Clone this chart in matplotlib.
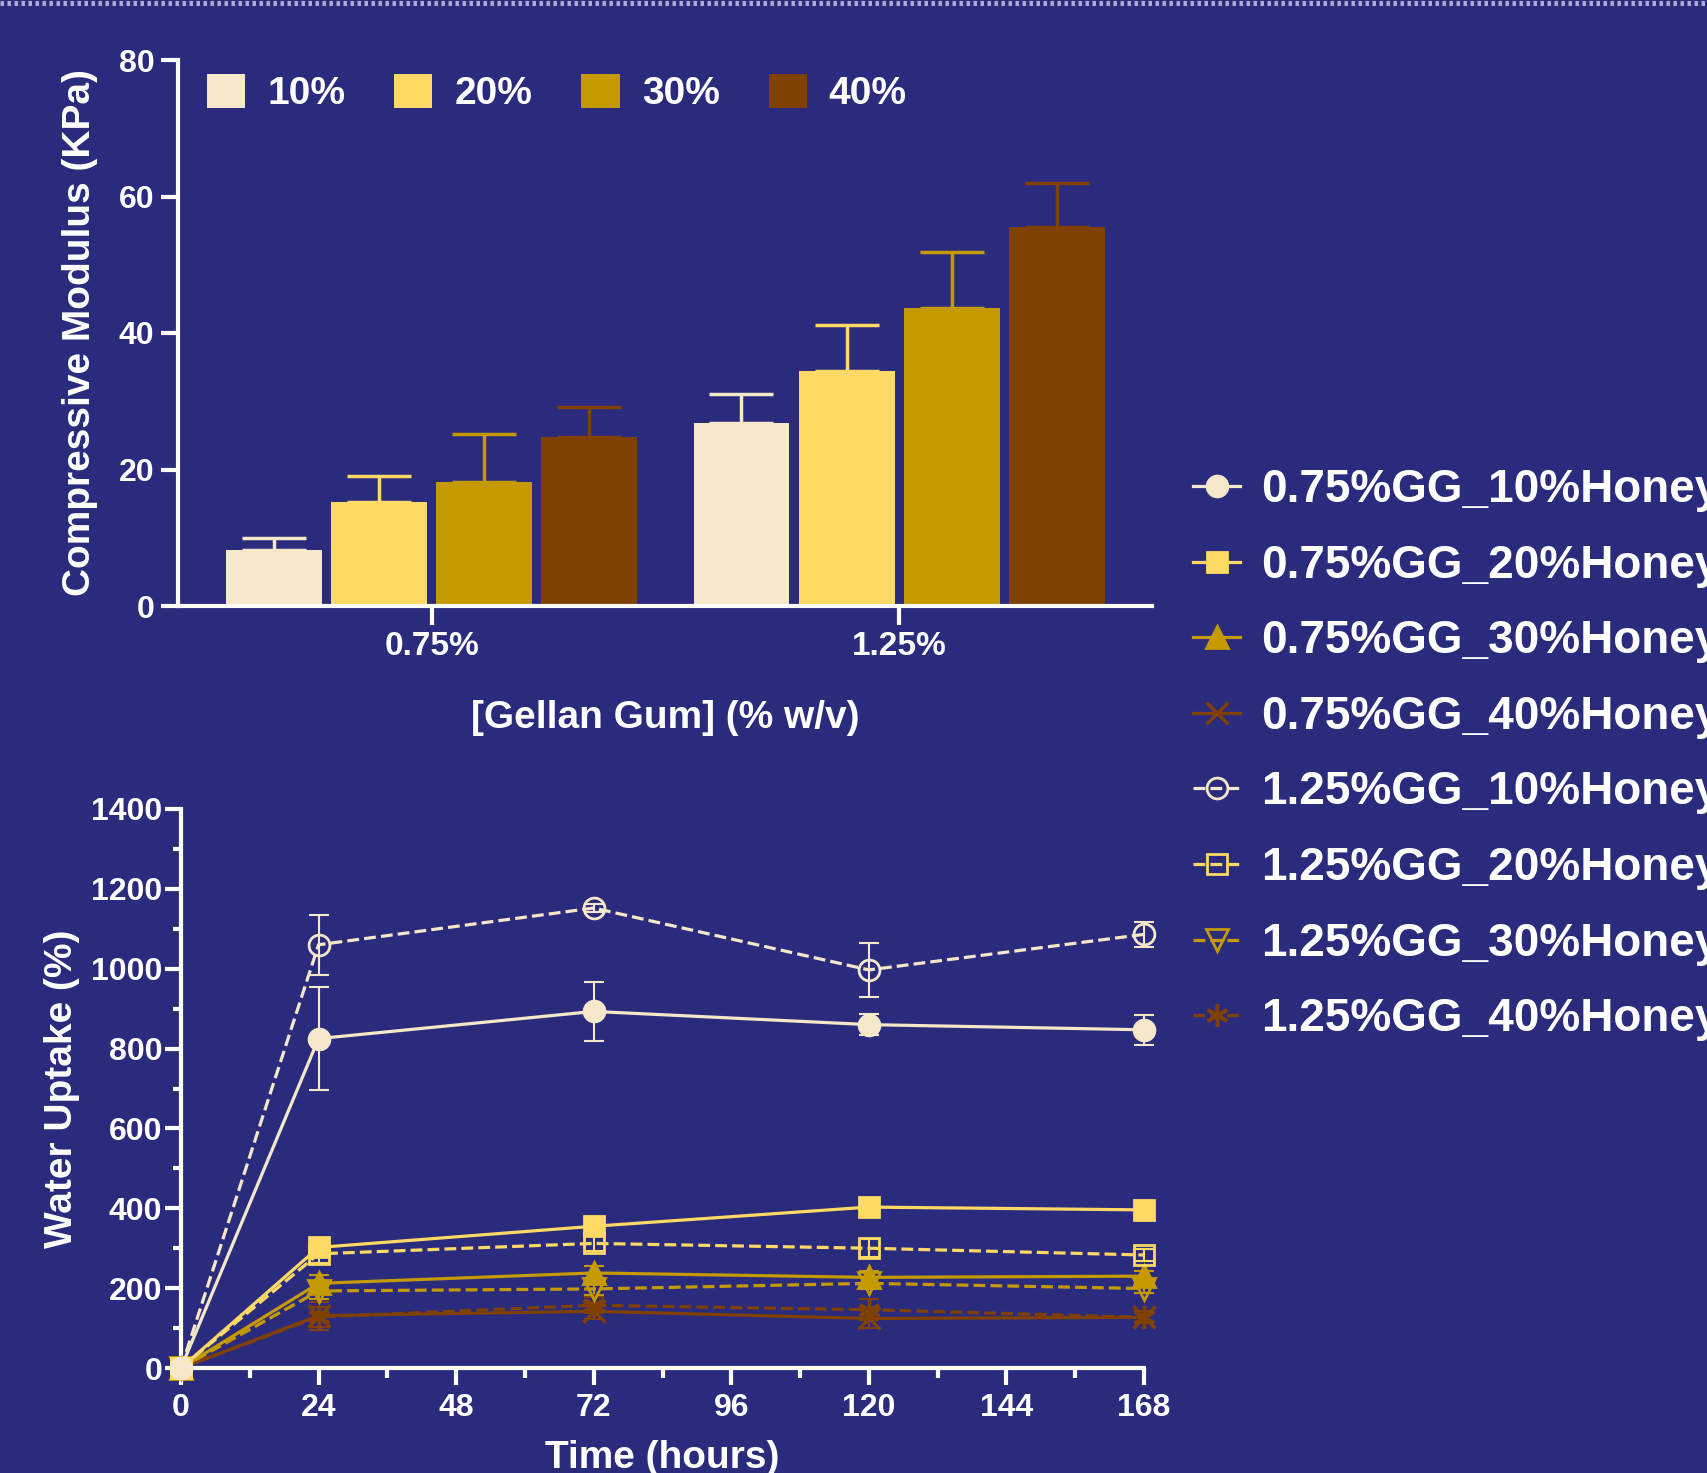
import numpy as np
import matplotlib
matplotlib.use("Agg")
import matplotlib.pyplot as plt
from matplotlib.lines import Line2D

plt.rcParams['font.family'] = ['Liberation Sans', 'DejaVu Sans']
plt.rcParams['font.weight'] = 'bold'
plt.rcParams['axes.labelweight'] = 'bold'

# 数据: 压缩模量 (柱状图)
gellan = ['0.75%', '1.25%']
honey = ['10%', '20%', '30%', '40%']
modulus_075 = [8.2, 15.3, 18.2, 24.7]
modulus_125 = [26.8, 34.5, 43.6, 55.6]
err_075 = [1.7, 3.7, 7.0, 4.5]
err_125 = [4.2, 6.7, 8.3, 6.4]

# 数据: 吸水率 (折线图)
hours = [0, 24, 72, 120, 168]
gg075_10 = [0, 825, 893, 860, 847]
gg075_20 = [0, 302, 355, 403, 396]
gg075_30 = [0, 212, 238, 227, 230]
gg075_40 = [0, 131, 142, 124, 127]
gg125_10 = [0, 1060, 1152, 997, 1086]
gg125_20 = [0, 286, 312, 300, 283]
gg125_30 = [0, 193, 198, 212, 199]
gg125_40 = [0, 128, 157, 146, 127]
sd075_10 = [0, 128, 73, 27, 37]
sd075_20 = [0, 18, 14, 12, 10]
sd075_30 = [0, 22, 18, 16, 14]
sd075_40 = [0, 35, 20, 24, 15]
sd125_10 = [0, 75, 10, 67, 32]
sd125_20 = [0, 22, 20, 22, 15]
sd125_30 = [0, 20, 15, 15, 12]
sd125_40 = [0, 25, 20, 27, 15]

bg = '#2B2B7E'
colors = ['#F5E7C9', '#FFD966', '#C49A00', '#7F4000']

W, H = 1708, 1473
fig = plt.figure(figsize=(W / 100, H / 100), dpi=100, facecolor=bg)

# 顶部虚线边框
fig.add_artist(Line2D([0, 1], [1 - 2.5 / H, 1 - 2.5 / H], transform=fig.transFigure,
                      color='#A9A9CF', lw=3.6, dashes=(0.7, 0.7)))


def style_axes(ax):
    ax.set_facecolor(bg)
    for s in ['top', 'right']:
        ax.spines[s].set_visible(False)
    for s in ['left', 'bottom']:
        ax.spines[s].set_color('white')
        ax.spines[s].set_linewidth(3)


# ---------- 柱状图 ----------
ax1 = fig.add_axes([178 / W, 1 - 606 / H, (1152 - 178) / W, (606 - 60) / H])
style_axes(ax1)
x = np.arange(len(gellan))
step = 0.225
width = 0.205
for i, lab in enumerate(honey):
    vals = [modulus_075[i], modulus_125[i]]
    errs = [err_075[i], err_125[i]]
    pos = x + (i - 1.5) * step
    ax1.bar(pos, vals, width, color=colors[i], label=lab, zorder=2)
    ax1.errorbar(pos, vals, yerr=[[0, 0], errs], fmt='none', ecolor=colors[i],
                 elinewidth=2.5, capsize=23, capthick=2.5, zorder=1)
ax1.set_xlim(-0.542, 1.54)
ax1.set_ylim(0, 80)
ax1.set_yticks([0, 20, 40, 60, 80])
ax1.set_xticks(x)
ax1.set_xticklabels(gellan)
ax1.tick_params(axis='both', colors='white', width=3, labelsize=23)
ax1.tick_params(axis='y', length=12, pad=5)
ax1.tick_params(axis='x', length=14, pad=4, labelsize=24)
ax1.set_ylabel('Compressive Modulus (KPa)', color='white', fontsize=28, labelpad=15)
ax1.set_xlabel('[Gellan Gum] (% w/v)', color='white', fontsize=28, labelpad=27)
ax1.legend(loc='upper left', bbox_to_anchor=(207 / W, 1 - 74 / H),
           bbox_transform=fig.transFigure, ncol=4, frameon=False,
           fontsize=28, labelcolor='white', handlelength=0.98, handleheight=0.98,
           handletextpad=0.57, columnspacing=1.26, borderpad=0, borderaxespad=0)

# ---------- 吸水率折线图 ----------
ax2 = fig.add_axes([181 / W, 1 - 1368 / H, (1144 - 181) / W, (1368 - 809) / H])
style_axes(ax2)

series = [
    ('0.75%GG_10%Honey', gg075_10, sd075_10, colors[0], 'o', '-', True),
    ('0.75%GG_20%Honey', gg075_20, sd075_20, colors[1], 's', '-', True),
    ('0.75%GG_30%Honey', gg075_30, sd075_30, colors[2], '^', '-', True),
    ('0.75%GG_40%Honey', gg075_40, sd075_40, colors[3], 'x', '-', True),
    ('1.25%GG_10%Honey', gg125_10, sd125_10, colors[0], 'o', '--', False),
    ('1.25%GG_20%Honey', gg125_20, sd125_20, colors[1], 's', '--', False),
    ('1.25%GG_30%Honey', gg125_30, sd125_30, colors[2], 'v', '--', False),
    ('1.25%GG_40%Honey', gg125_40, sd125_40, colors[3], (6, 2, 0), '--', False),
]
handles = []
for k, (lab, y, e, c, m, ls, filled) in enumerate(series):
    ax2.errorbar(hours, y, yerr=e, fmt='none', ecolor=c, elinewidth=1.5,
                 capsize=7, capthick=1.5, zorder=2, clip_on=False)
    ms = 15 if m in ('o', 's') else 16
    mew = 2.5 if m in ('x', (6, 2, 0)) else 2
    ln, = ax2.plot(hours, y, color=c, ls=ls, lw=2.3, marker=m, markersize=ms,
                   markerfacecolor=c if filled else 'none', markeredgecolor=c,
                   markeredgewidth=mew, label=lab, zorder=10 - k % 4, clip_on=False)
    handles.append(ln)

ax2.set_xlim(0, 168)
ax2.set_ylim(0, 1400)
ax2.set_xticks(range(0, 169, 24))
ax2.set_xticks(range(12, 169, 24), minor=True)
ax2.set_yticks(range(0, 1401, 200))
ax2.set_yticks(range(100, 1400, 200), minor=True)
ax2.tick_params(axis='both', which='both', colors='white', width=3, labelsize=23)
ax2.tick_params(axis='y', which='major', length=11.5, pad=2)
ax2.tick_params(axis='y', which='minor', length=6)
ax2.tick_params(axis='x', which='major', length=12, pad=6)
ax2.tick_params(axis='x', which='minor', length=7)
ax2.set_ylabel('Water Uptake (%)', color='white', fontsize=28, labelpad=8)
ax2.set_xlabel('Time (hours)', color='white', fontsize=28, labelpad=12)

fig.legend(handles=handles, loc='upper left', bbox_to_anchor=(1193 / W, 1 - 468 / H),
           frameon=False, fontsize=33, labelcolor='white', handlelength=1.03,
           handletextpad=0.46, labelspacing=0.69, borderpad=0, borderaxespad=0)

fig.savefig('out.png', dpi=100, facecolor=bg)
